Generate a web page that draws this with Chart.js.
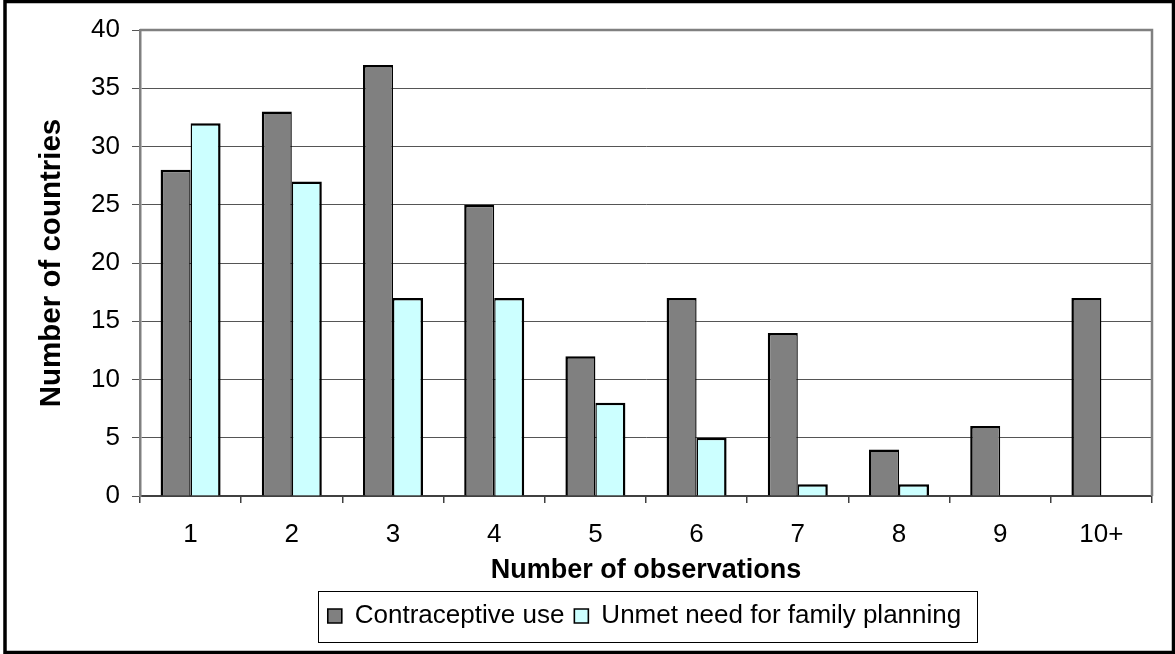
<!DOCTYPE html>
<html>
<head>
<meta charset="utf-8">
<script src="https://cdn.jsdelivr.net/npm/chart.js@4.4.1/dist/chart.umd.min.js"></script>
<style>
  html, body { margin: 0; padding: 0; background: #fff; }
  #wrap { width: 1175px; height: 654px; }
</style>
</head>
<body>
<div id="wrap"><canvas id="chart" width="1175" height="654"></canvas></div>
<script>
// Number of observations per country, by indicator
const categories = ['1', '2', '3', '4', '5', '6', '7', '8', '9', '10+'];
const contraceptiveUse = [28, 33, 37, 25, 12, 17, 14, 4, 6, 17];
const unmetNeed = [32, 27, 17, 17, 8, 5, 1, 1, 0, 0];
const yTicks = [0, 5, 10, 15, 20, 25, 30, 35, 40];

const FONT = "'Liberation Sans', Arial, sans-serif";

// Frame around the whole figure, plus the top/right edges of the plot area
const framePlugin = {
  id: 'frame',
  beforeDatasetsDraw(chart) {
    const { ctx, chartArea: a } = chart;
    ctx.save();
    ctx.strokeStyle = '#808080';
    ctx.lineWidth = 2.5;
    ctx.beginPath();
    ctx.moveTo(a.left, a.top);
    ctx.lineTo(a.right, a.top);
    ctx.lineTo(a.right, a.bottom);
    ctx.stroke();
    ctx.restore();
  },
  afterDraw(chart) {
    const { ctx } = chart;
    ctx.save();
    ctx.strokeStyle = '#000';
    ctx.lineWidth = 3.5;
    ctx.strokeRect(5, 1.5, 1175 - 6.5, 654 - 3);
    ctx.restore();
  }
};

// Place the legend under the plot area and draw a box around it
const legendBoxPlugin = {
  id: 'legendBox',
  afterLayout(chart) {
    const lg = chart.legend;
    lg.left = 137;
    lg.right = 1152;
  },
  afterDraw(chart) {
    const lg = chart.legend;
    if (!lg || !lg.legendHitBoxes.length) return;
    const hb = lg.legendHitBoxes;
    const l = Math.min(...hb.map(h => h.left));
    const r = Math.max(...hb.map(h => h.left + h.width));
    const { ctx } = chart;
    ctx.save();
    ctx.strokeStyle = '#000';
    ctx.lineWidth = 1;
    ctx.strokeRect(Math.round(l - 10) + 0.5, 591.5, Math.round(r - l + 26), 51);
    ctx.restore();
  }
};

new Chart(document.getElementById('chart'), {
  type: 'bar',
  data: {
    labels: categories,
    datasets: [
      {
        label: 'Contraceptive use',
        data: contraceptiveUse,
        backgroundColor: '#808080',
        borderColor: '#000',
        borderWidth: { top: 2.5, left: 2.5, right: 1.4, bottom: 0 },
        borderSkipped: false,
        categoryPercentage: 0.593,
        barPercentage: 1.0
      },
      {
        label: 'Unmet need for family planning',
        data: unmetNeed,
        backgroundColor: '#CCFFFF',
        borderColor: '#000',
        borderWidth: { top: 2.5, left: 1.4, right: 2.5, bottom: 0 },
        borderSkipped: false,
        categoryPercentage: 0.593,
        barPercentage: 1.0
      }
    ]
  },
  options: {
    responsive: false,
    animation: false,
    devicePixelRatio: 1,
    layout: { padding: { left: 8, right: 23, top: 30, bottom: 15 } },
    plugins: {
      tooltip: { enabled: false },
      legend: {
        position: 'bottom',
        align: 'center',
        labels: {
          font: { family: FONT, size: 26 },
          color: '#000',
          boxWidth: 14,
          boxHeight: 14,
          padding: 10
        }
      }
    },
    scales: {
      x: {
        afterFit(scale) { scale.height = 97; },
        grid: {
          offset: true,
          drawOnChartArea: false,
          drawTicks: true,
          tickLength: 7,
          color: '#404040',
          lineWidth: 1.5
        },
        border: { display: true, color: '#404040', width: 2 },
        ticks: {
          font: { family: FONT, size: 26 },
          color: '#000',
          padding: 16,
          maxRotation: 0
        },
        title: {
          display: true,
          text: 'Number of observations',
          font: { family: FONT, size: 27, weight: 'bold' },
          color: '#000',
          padding: { top: 0, bottom: 6 }
        }
      },
      y: {
        min: 0,
        max: 40,
        afterFit(scale) { scale.width = 132; },
        afterBuildTicks(scale) { scale.ticks = yTicks.map(v => ({ value: v })); },
        grid: {
          color: '#555',
          lineWidth: 1,
          tickLength: 8
        },
        border: { display: true, color: '#808080', width: 2.5 },
        ticks: {
          font: { family: FONT, size: 26 },
          color: '#000',
          padding: 12
        },
        title: {
          display: true,
          text: 'Number of countries',
          font: { family: FONT, size: 29.5, weight: 'bold' },
          color: '#000',
          padding: { top: 26.5, bottom: 0 }
        }
      }
    }
  },
  plugins: [framePlugin, legendBoxPlugin]
});
</script>
</body>
</html>
